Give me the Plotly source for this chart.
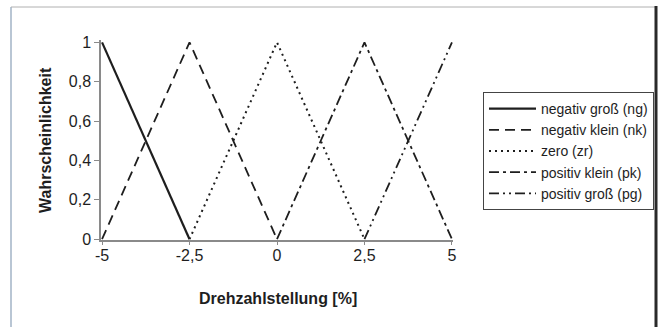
import plotly.graph_objects as go

# ---- data ----
ng_x = [-5, -2.5]
ng_y = [1, 0]
nk_x = [-5, -2.5, 0]
nk_y = [0, 1, 0]
zr_x = [-2.5, 0, 2.5]
zr_y = [0, 1, 0]
pk_x = [0, 2.5, 5]
pk_y = [0, 1, 0]
pg_x = [2.5, 5]
pg_y = [0, 1]

names = ["negativ groß (ng)", "negativ klein (nk)", "zero (zr)",
         "positiv klein (pk)", "positiv groß (pg)"]

x_tickvals = [-5, -2.5, 0, 2.5, 5]
x_ticktext = ["-5", "-2,5", "0", "2,5", "5"]
y_tickvals = [0, 0.2, 0.4, 0.6, 0.8, 1]
y_ticktext = ["0", "0,2", "0,4", "0,6", "0,8", "1"]

FONT = "Arial, Liberation Sans, sans-serif"
INK = "#1e1e1e"

series = [
    (ng_x, ng_y, names[0], "solid", 2.2),
    (nk_x, nk_y, names[1], "10px,6px", 1.8),
    (zr_x, zr_y, names[2], "2px,4px", 2.0),
    (pk_x, pk_y, names[3], "10px,4px,3px,4px", 1.8),
    (pg_x, pg_y, names[4], "10px,4px,2px,4px,2px,4px", 1.8),
]

fig = go.Figure()
for xs, ys, nm, dash, w in series:
    fig.add_trace(go.Scatter(x=xs, y=ys, name=nm, mode="lines",
                             line=dict(color=INK, width=w, dash=dash)))

W, H = 662, 327
L, R, T, B = 101, 453, 40, 240

def px(xp):
    return (xp - L) / (R - L)

def py(yp):
    return (B - yp) / (B - T)

fig.update_layout(
    width=W, height=H,
    margin=dict(l=L, r=W - R, t=T, b=H - B, pad=0, autoexpand=False),
    paper_bgcolor="white", plot_bgcolor="white",
    font=dict(family=FONT, color=INK, size=16),
    showlegend=True,
    legend=dict(
        x=px(483), y=py(92), xanchor="left", yanchor="top",
        bordercolor="#444", borderwidth=1, bgcolor="white",
        font=dict(family=FONT, size=14, color=INK),
        itemwidth=47, tracegroupgap=0,
    ),
    xaxis=dict(
        range=[-5.03, 5.03], tickvals=x_tickvals, ticktext=x_ticktext,
        showgrid=False, zeroline=False, showline=True, linecolor="#8a8a8a",
        linewidth=1.5, ticks="outside", ticklen=3, tickcolor="#8a8a8a",
        ticklabelstandoff=-3,
        tickfont=dict(size=16, family=FONT, color=INK), fixedrange=True,
    ),
    yaxis=dict(
        range=[-0.004, 1.012], tickvals=y_tickvals, ticktext=y_ticktext,
        showgrid=False, zeroline=False, showline=True, linecolor="#8a8a8a",
        linewidth=1.5, ticks="outside", ticklen=5, tickcolor="#8a8a8a",
        tickfont=dict(size=16, family=FONT, color=INK), fixedrange=True,
    ),
    annotations=[
        dict(text="<b>Drehzahlstellung [%]</b>", xref="paper", yref="paper",
             x=px(278), y=py(298), xanchor="center", yanchor="middle",
             showarrow=False, font=dict(size=16, family=FONT, color=INK)),
        dict(text="<b>Wahrscheinlichkeit</b>", xref="paper", yref="paper",
             x=px(45), y=py(140), xanchor="center", yanchor="middle",
             textangle=-90, showarrow=False,
             font=dict(size=16, family=FONT, color=INK)),
    ],
    shapes=[
        dict(type="line", xref="paper", yref="paper", x0=px(11), x1=px(11),
             y0=py(7), y1=py(335), line=dict(color="#8aa0b8", width=1.2)),
        dict(type="line", xref="paper", yref="paper", x0=px(11), x1=px(656),
             y0=py(7), y1=py(7), line=dict(color="#b0b0b0", width=1)),
        dict(type="line", xref="paper", yref="paper", x0=px(656), x1=px(656),
             y0=py(6), y1=py(335), line=dict(color="#2a2a2a", width=3)),
    ],
)

fig.write_html(
    "out.html",
    config={"displayModeBar": False},
    post_script="document.body.style.margin='0';document.body.style.overflow='hidden';",
)
